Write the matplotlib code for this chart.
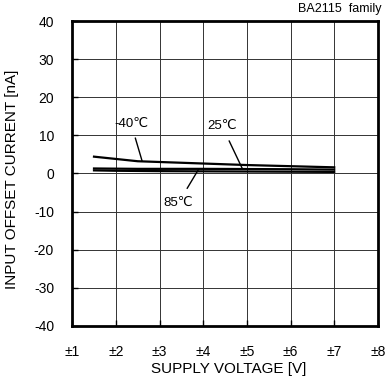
import matplotlib
matplotlib.use("Agg")
import matplotlib.pyplot as plt

plt.rcParams['font.family'] = ['Liberation Sans', 'DejaVu Sans']
plt.rcParams['axes.unicode_minus'] = False

# supply voltage (+/- V)
volt = [1.5, 2.0, 2.5, 3.0, 4.0, 5.0, 6.0, 7.0]
# input offset current [nA]
i_m40 = [4.4, 3.8, 3.2, 3.0, 2.6, 2.2, 1.9, 1.6]
i_25 = [1.3, 1.25, 1.2, 1.2, 1.2, 1.15, 1.1, 1.0]
i_85 = [0.8, 0.7, 0.65, 0.6, 0.55, 0.5, 0.45, 0.4]

xticks = [1, 2, 3, 4, 5, 6, 7, 8]
xlabels = ["±%d" % v for v in xticks]
yticks = [-40, -30, -20, -10, 0, 10, 20, 30, 40]

fig = plt.figure(figsize=(3.88, 3.82), dpi=100)
ax = fig.add_axes([0.186, 0.147, 0.788, 0.798])

for s in [i_m40, i_25, i_85]:
    ax.plot(volt, s, color='black', lw=1.6)

ax.set_xlim(1, 8)
ax.set_ylim(-40, 40)
ax.set_xticks(xticks)
ax.set_xticklabels(xlabels)
ax.set_yticks(yticks)
ax.grid(True, color='#333333', lw=0.7)
ax.tick_params(direction='in', length=4, width=1, labelsize=10)
ax.tick_params(axis='x', pad=13.5)
ax.tick_params(axis='y', pad=13)
for sp in ax.spines.values():
    sp.set_linewidth(2)

ax.set_xlabel("SUPPLY VOLTAGE [V]", fontsize=11, labelpad=2)
ax.set_ylabel("INPUT OFFSET CURRENT [nA]", fontsize=11)
ax.xaxis.set_label_coords(0.513, -0.118)
ax.yaxis.set_label_coords(-0.175, 0.482)

ax.annotate("-40℃", xy=(2.6, 3.3), xytext=(2.35, 13), fontsize=9.5,
            ha='center', va='center',
            arrowprops=dict(arrowstyle='-', color='black', lw=1, shrinkA=4, shrinkB=0))
ax.annotate("25℃", xy=(4.89, 1.4), xytext=(4.43, 12.5), fontsize=9.5,
            ha='center', va='center',
            arrowprops=dict(arrowstyle='-', color='black', lw=1, shrinkA=5, shrinkB=0))
ax.annotate("85℃", xy=(3.9, 1.2), xytext=(3.43, -7.8), fontsize=9.5,
            ha='center', va='center',
            arrowprops=dict(arrowstyle='-', color='black', lw=1, shrinkA=5, shrinkB=0))

fig.text(0.983, 0.977, "BA2115  family", fontsize=9, ha='right', va='center')

fig.savefig("out.png", dpi=100)
